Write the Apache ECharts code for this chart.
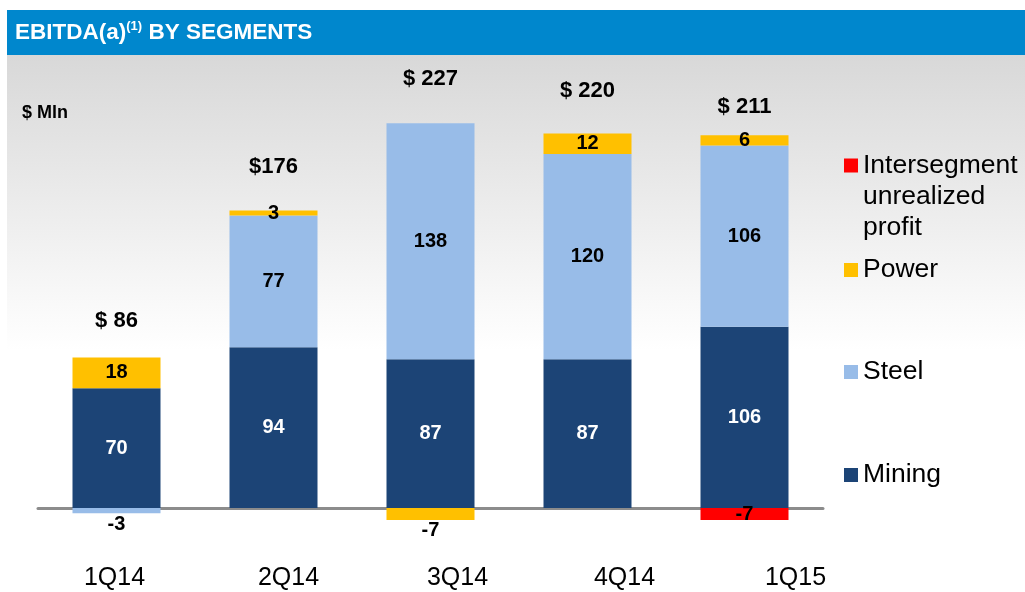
<!DOCTYPE html>
<html>
<head>
<meta charset="utf-8">
<script src="https://cdn.jsdelivr.net/npm/echarts@6/dist/echarts.min.js"></script>
<style>
html, body { margin: 0; padding: 0; background: #fff; }
#main { width: 1025px; height: 592px; }
</style>
</head>
<body>
<div id="main"></div>
<script>
// EBITDA by segments, $ Mln
var quarters = ['1Q14', '2Q14', '3Q14', '4Q14', '1Q15'];
var mining = [70, 94, 87, 87, 106];
var steel = [-3, 77, 138, 120, 106];
var power = [18, 3, -7, 12, 6];
var interseg = [null, null, null, null, -7];
var totals = [86, 176, 227, 220, 211];
var totalLabels = ['$ 86', '$176', '$ 227', '$ 220', '$ 211'];

var FONT = 'Liberation Sans, Arial, sans-serif';
var chart = echarts.init(document.getElementById('main'));

// negative pieces get their label under the bar
function withLabels(arr, negPos) {
    return arr.map(function (v) {
        if (v != null && v < 0) {
            return { value: v, label: { position: negPos, distance: 1 } };
        }
        return v;
    });
}

function segLabel(color) {
    return {
        show: true,
        position: 'inside',
        color: color,
        fontFamily: FONT,
        fontSize: 20,
        fontWeight: 'bold'
    };
}

var legendBase = {
    orient: 'vertical',
    left: 844,
    padding: 0,
    icon: 'rect',
    itemWidth: 14,
    itemHeight: 14,
    selectedMode: false,
    textStyle: { fontFamily: FONT, fontSize: 26.5, color: '#000', lineHeight: 30 }
};

var catShift = {
    c0: { padding: [0, 4, 0, 0] },
    c1: { padding: [0, 0, 0, 30] },
    c2: { padding: [0, 0, 0, 54] },
    c3: { padding: [0, 0, 0, 74] },
    c4: { padding: [0, 0, 0, 102] }
};
Object.keys(catShift).forEach(function (k) {
    catShift[k].fontSize = 25;
    catShift[k].fontFamily = FONT;
    catShift[k].color = '#000';
});

var option = {
    animation: false,
    graphic: [
        {
            type: 'rect', left: 7, top: 55, z: -10, silent: true,
            shape: { width: 1018, height: 537 },
            style: {
                fill: {
                    type: 'linear', x: 0, y: 0, x2: 0, y2: 1,
                    colorStops: [
                        { offset: 0, color: '#d8d8d8' },
                        { offset: 0.55, color: '#ffffff' },
                        { offset: 1, color: '#ffffff' }
                    ]
                }
            }
        },
        {
            type: 'rect', left: 7, top: 10, z: -10, silent: true,
            shape: { width: 1018, height: 45 },
            style: { fill: '#0087cd' }
        }
    ],
    title: [
        {
            text: '{a|EBITDA(a)}{s|(1)}{a| BY SEGMENTS}',
            left: 15,
            top: 20,
            padding: 0,
            textStyle: {
                rich: {
                    a: { fontFamily: FONT, fontSize: 22.5, fontWeight: 'bold', color: '#fff', lineHeight: 25 },
                    s: { fontFamily: FONT, fontSize: 13, fontWeight: 'bold', color: '#fff', verticalAlign: 'top', lineHeight: 14 }
                }
            }
        },
        {
            text: '$ Mln',
            left: 22,
            top: 104,
            padding: 0,
            textStyle: { fontFamily: FONT, fontSize: 18, fontWeight: 'bold', color: '#000' }
        }
    ],
    legend: [
        Object.assign({}, legendBase, {
            top: 88,
            data: ['Intersegment unrealized profit'],
            // two empty lines on top keep the swatch level with the first line
            formatter: function () { return '\n\nIntersegment\nunrealized\nprofit'; },
            textStyle: { fontFamily: FONT, fontSize: 26.5, color: '#000', lineHeight: 31 }
        }),
        Object.assign({}, legendBase, { top: 255, data: ['Power'] }),
        Object.assign({}, legendBase, { top: 357, data: ['Steel'] }),
        Object.assign({}, legendBase, { top: 460, data: ['Mining'] })
    ],
    grid: {
        left: 38,
        width: 785,
        top: 80.5,
        height: 461.7,
        outerBoundsMode: 'none',
        containLabel: false
    },
    xAxis: {
        type: 'category',
        data: quarters,
        axisTick: { show: false },
        axisLine: { onZero: true, lineStyle: { color: '#8c8c8c', width: 3 } },
        axisLabel: {
            interval: 0,
            margin: 23,
            fontFamily: FONT,
            fontSize: 25,
            color: '#000',
            formatter: function (v, i) { return '{c' + i + '|' + v + '}'; },
            rich: catShift
        }
    },
    yAxis: {
        type: 'value',
        min: -20,
        max: 250,
        show: false,
        splitLine: { show: false }
    },
    series: [
        {
            name: 'Mining',
            type: 'bar',
            stack: 'ebitda',
            barWidth: 88,
            itemStyle: { color: '#1c4476' },
            label: segLabel('#fff'),
            data: mining
        },
        {
            name: 'Steel',
            type: 'bar',
            stack: 'ebitda',
            itemStyle: { color: '#98bce8' },
            label: segLabel('#000'),
            data: withLabels(steel, 'bottom')
        },
        {
            name: 'Power',
            type: 'bar',
            stack: 'ebitda',
            itemStyle: { color: '#ffc000' },
            label: segLabel('#000'),
            data: withLabels(power, 'bottom')
        },
        {
            name: 'Intersegment unrealized profit',
            type: 'bar',
            stack: 'ebitda',
            itemStyle: { color: '#ff0000' },
            label: segLabel('#000'),
            data: withLabels(interseg, 'inside')
        },
        {
            name: 'Total',
            type: 'scatter',
            symbolSize: 1,
            itemStyle: { color: 'rgba(0,0,0,0)', opacity: 1 },
            label: {
                show: true,
                position: 'top',
                distance: 29,
                fontFamily: FONT,
                fontSize: 22,
                fontWeight: 'bold',
                color: '#000',
                formatter: function (p) { return totalLabels[p.dataIndex]; }
            },
            data: totals
        }
    ]
};

chart.setOption(option);
</script>
</body>
</html>
